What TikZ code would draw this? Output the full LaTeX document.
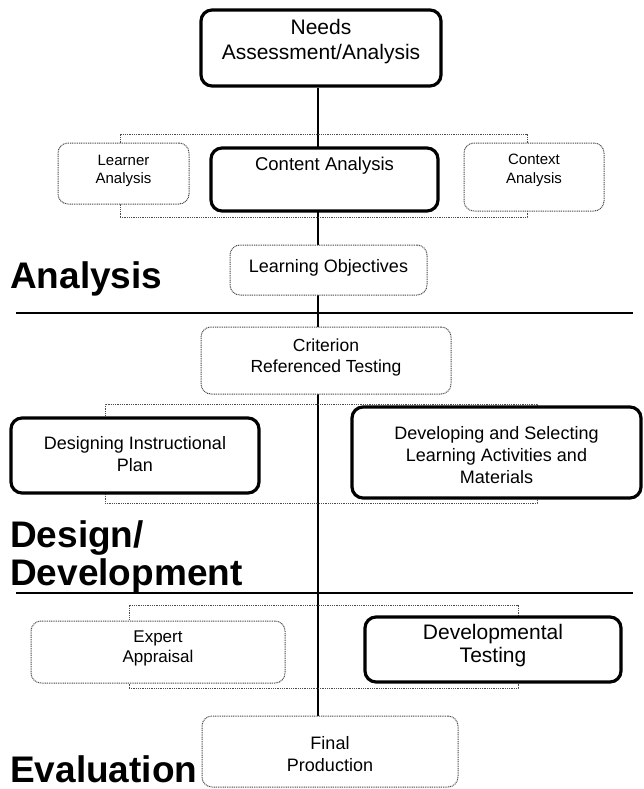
\documentclass[tikz,border=0pt]{standalone}
\usepackage{fontspec}
\setmainfont{Liberation Sans}
\usetikzlibrary{backgrounds}
\newcommand\fsz[2]{\fontsize{#1}{#2}\selectfont}
\tikzset{
  thickbox/.style={draw, line width=3.2pt, rounded corners=11pt, fill=white, inner sep=0pt},
  dotbox/.style={draw=black!70, line width=1pt, dash pattern=on 1pt off 0.8pt, rounded corners=10pt, fill=white, inner sep=0pt},
  grouprect/.style={draw=black!70, line width=1pt, dash pattern=on 1pt off 0.8pt, inner sep=0pt},
  txt/.style={inner sep=0pt, align=center},
  phase/.style={inner sep=0pt, anchor=base west, font=\fsz{37}{38}\bfseries},
  rulestyle/.style={line width=1.5pt},
  spine/.style={line width=1.2pt}
}
\begin{document}
\begin{tikzpicture}[x=1pt,y=1pt]
\useasboundingbox (0,0) rectangle (643,-789);
% group frames
\node[grouprect, minimum width=407pt, minimum height=83pt] (grp1) at (323.5,-175.5) {};
\node[grouprect, minimum width=432pt, minimum height=99pt] (grp2) at (321,-453.5) {};
\node[grouprect, minimum width=389pt, minimum height=83pt] (grp3) at (323.5,-646.5) {};
% boxes
\node[thickbox, minimum width=240pt, minimum height=76pt] (needs) at (321,-48) {};
\node[dotbox, minimum width=131pt, minimum height=61pt] (learner) at (123.5,-173.5) {};
\node[thickbox, minimum width=227pt, minimum height=63pt] (content) at (324.5,-179.5) {};
\node[dotbox, minimum width=140pt, minimum height=68pt] (context) at (534,-177) {};
\node[dotbox, minimum width=197pt, minimum height=50pt] (objectives) at (328.5,-270) {};
\node[dotbox, minimum width=250pt, minimum height=67pt] (criterion) at (326,-360.5) {};
\node[thickbox, minimum width=248pt, minimum height=75pt] (designing) at (135,-455.5) {};
\node[thickbox, minimum width=289pt, minimum height=91pt] (developing) at (496.5,-452.5) {};
\node[dotbox, minimum width=254pt, minimum height=62pt] (expert) at (158,-652) {};
\node[thickbox, minimum width=256pt, minimum height=65pt] (devtest) at (493,-649.5) {};
\node[dotbox, minimum width=256pt, minimum height=71pt] (final) at (330,-751.5) {};
% texts
\node[txt, font=\fsz{21}{25}] (needsT) at (321,-42) {Needs\\Assessment/Analysis};
\node[txt, font=\fsz{15}{18}] (learnerT) at (123.5,-171) {Learner\\Analysis};
\node[txt, font=\fsz{18.5}{22}] (contentT) at (324.5,-166) {Content Analysis};
\node[txt, font=\fsz{15}{19}] (contextT) at (534,-170) {Context\\Analysis};
\node[txt, font=\fsz{18}{22}] (objectivesT) at (328.5,-268) {Learning Objectives};
\node[txt, font=\fsz{17.5}{21}] (criterionT) at (326,-357.5) {Criterion\\Referenced Testing};
\node[txt, font=\fsz{18}{22}] (designingT) at (135,-454) {Designing Instructional\\Plan};
\node[txt, font=\fsz{18}{22}] (developingT) at (496.5,-455) {Developing and Selecting\\Learning Activities and\\Materials};
\node[txt, font=\fsz{17}{20}] (expertT) at (158,-648) {Expert\\Appraisal};
\node[txt, font=\fsz{21}{23}] (devtestT) at (493,-646) {Developmental\\Testing};
\node[txt, font=\fsz{18}{22}] (finalT) at (330,-754) {Final\\Production};
% phase labels
\node[phase] (analysisL) at (10,-288) {Analysis};
\node[phase] (designL) at (10,-547) {Design/};
\node[phase] (developmentL) at (10,-585) {Development};
\node[phase] (evaluationL) at (10,-782) {Evaluation};
% rules
\coordinate (r1a) at (16,-313);
\coordinate (r1b) at (633,-313);
\coordinate (r2a) at (16,-593);
\coordinate (r2b) at (633,-593);
\draw[rulestyle] (r1a) -- (r1b);
\draw[rulestyle] (r2a) -- (r2b);
% spine
\begin{scope}[on background layer]
\draw[spine] (needs.south -| 318,0) -- (final.north -| 318,0);
\end{scope}
\end{tikzpicture}
\end{document}
